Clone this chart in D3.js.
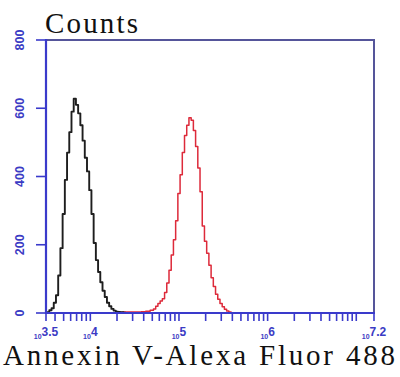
<!DOCTYPE html>
<html><head><meta charset="utf-8">
<script src="https://cdn.jsdelivr.net/npm/d3@7"></script>
<style>html,body{margin:0;padding:0;background:#fff;}svg{display:block;}</style>
</head><body>
<svg id="c" width="400" height="377"></svg>
<script>
// Data (x = log10 fluorescence bin, y = counts)
const blackLog = [3.5,3.525,3.55,3.575,3.6,3.625,3.65,3.675,3.7,3.725,3.75,3.775,3.8,3.825,3.85,3.875,3.9,3.925,3.95,3.975,4.0,4.025,4.05,4.075,4.1,4.125,4.15,4.175,4.2,4.225,4.25,4.275,4.3,4.325,4.35,4.4];
const blackCounts = [0,2,8,14,30,52,110,190,290,390,470,530,590,628,610,585,550,505,455,415,360,290,205,155,120,90,65,47,30,20,12,7,4,3,2,1];
const redLog = [4.35,4.4,4.45,4.5,4.55,4.6,4.65,4.7,4.725,4.75,4.775,4.8,4.825,4.85,4.875,4.9,4.925,4.95,4.975,5.0,5.025,5.05,5.075,5.1,5.125,5.15,5.175,5.2,5.225,5.25,5.275,5.3,5.325,5.35,5.375,5.4,5.425,5.45,5.475,5.5,5.525,5.55,5.575,5.6];
const redCounts = [2,3,3,3,3,4,5,8,12,20,28,35,42,60,88,125,170,215,270,350,405,470,520,550,572,565,535,488,425,355,255,210,175,140,103,78,55,40,28,18,11,6,3,0];
const yTicks = [0,200,400,600,800];
const xTickExps = ["3.5","4","5","6","7.2"];
const xLabel = "Annexin V-Alexa Fluor 488";
const yLabel = "Counts";

const svg = d3.select("#c");
const L = 46, R = 374, T = 40, B = 313;
const axisBlue = "#3a3acb", frameCol = "#55559a", labBlue = "#3b3bc4";

const x = d3.scaleLog().domain([Math.pow(10,3.5), Math.pow(10,7.2)]).range([L, R]);
const y = d3.scaleLinear().domain([0,800]).range([B, T]);

// curves
const line = d3.line().x(d=>x(Math.pow(10,d[0]))).y(d=>y(d[1])).curve(d3.curveStep);
svg.append("path").datum(redLog.map((v,i)=>[v,redCounts[i]]))
  .attr("d", line).attr("fill","none").attr("stroke","#dd2a3a").attr("stroke-width",1.5)
  .attr("stroke-linejoin","round");
svg.append("path").datum(blackLog.map((v,i)=>[v,blackCounts[i]]))
  .attr("d", line).attr("fill","none").attr("stroke","#1e1e1e").attr("stroke-width",1.9)
  .attr("stroke-linejoin","round");

// frame
svg.append("line").attr("x1",L).attr("x2",R+1).attr("y1",T).attr("y2",T).attr("stroke",frameCol).attr("stroke-width",2);
svg.append("line").attr("x1",R).attr("x2",R).attr("y1",T).attr("y2",B).attr("stroke",frameCol).attr("stroke-width",2);

// x ticks
const [d0,d1] = x.domain();
const xt = [d0];
for (let e=3;e<=7;e++) for (let m=1;m<=9;m++){const v=m*Math.pow(10,e); if(v>d0&&v<d1) xt.push(v);}
xt.push(d1);
svg.append("g").selectAll("line").data(xt).join("line")
  .attr("x1",d=>x(d)).attr("x2",d=>x(d)).attr("y1",B).attr("y2",B+8)
  .attr("stroke",axisBlue).attr("stroke-width",1.6);
svg.append("line").attr("x1",L-1).attr("x2",R+1).attr("y1",B).attr("y2",B).attr("stroke",axisBlue).attr("stroke-width",2.2);

// y axis
svg.append("g").selectAll("line").data(yTicks).join("line")
  .attr("x1",L-10).attr("x2",L).attr("y1",d=>y(d)).attr("y2",d=>y(d))
  .attr("stroke",axisBlue).attr("stroke-width",1.6);
svg.append("line").attr("x1",L).attr("x2",L).attr("y1",T-1).attr("y2",B+1).attr("stroke",axisBlue).attr("stroke-width",2.2);

svg.append("g").selectAll("text").data(yTicks).join("text")
  .attr("transform",d=>`translate(24,${y(d)}) rotate(-90)`)
  .attr("text-anchor","middle")
  .attr("font-family","Liberation Sans, Arial, sans-serif").attr("font-weight","bold")
  .attr("font-size",12.5).attr("fill",labBlue).text(d=>d);

// x tick labels 10^e
const xl = svg.append("g").selectAll("text").data(xTickExps).join("text")
  .attr("x",d=>x(Math.pow(10,+d))).attr("y",336)
  .attr("text-anchor","middle")
  .attr("font-family","Liberation Sans, Arial, sans-serif").attr("font-weight","bold")
  .attr("fill",labBlue);
xl.append("tspan").attr("font-size",7).attr("dy",3).text("10");
xl.append("tspan").attr("font-size",12).attr("dy",-3).text(d=>d);

// titles
svg.append("text").attr("x",45).attr("y",33)
  .attr("font-family","Liberation Serif, Times New Roman, serif").attr("font-size",29)
  .attr("textLength",93).attr("lengthAdjust","spacing")
  .attr("fill","#111").text(yLabel);
svg.append("text").attr("x",3).attr("y",365)
  .attr("font-family","Liberation Serif, Times New Roman, serif").attr("font-size",29)
  .attr("textLength",392).attr("lengthAdjust","spacing")
  .attr("fill","#111").text(xLabel);
</script>
</body></html>
